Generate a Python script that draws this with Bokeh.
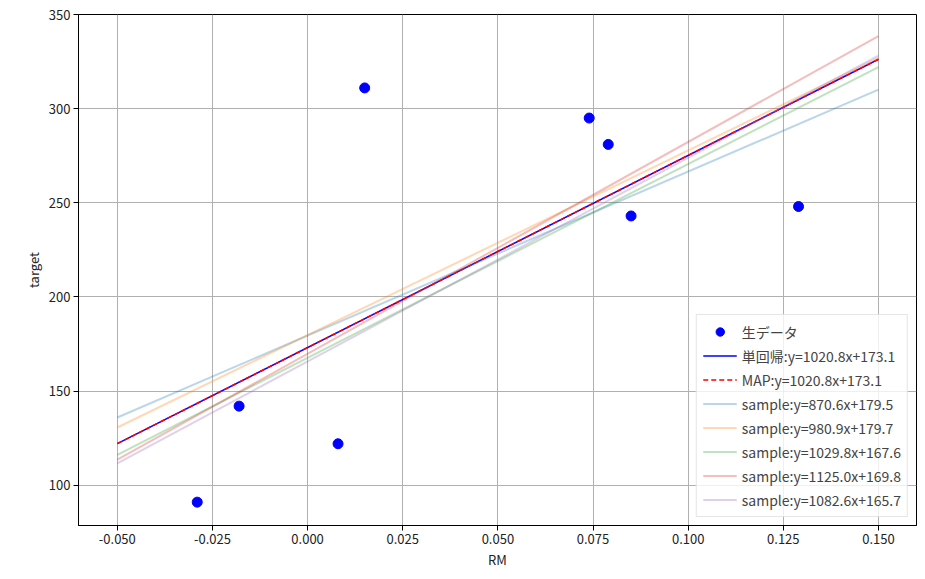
from bokeh.plotting import figure
from bokeh.models import Range1d, SingleIntervalTicker, Legend, LegendItem, PrintfTickFormatter
from bokeh.embed import file_html
from bokeh.resources import INLINE

rm = [-0.029, -0.018, 0.008, 0.015, 0.074, 0.079, 0.085, 0.129]
target = [91, 142, 122, 311, 295, 281, 243, 248]

x_line = [-0.05, 0.15]
slope_ols, icpt_ols = 1020.8, 173.1
slope_map, icpt_map = 1020.8, 173.1
samples = [(870.6, 179.5), (980.9, 179.7), (1029.8, 167.6), (1125.0, 169.8), (1082.6, 165.7)]
sample_colors = ["#1f77b4", "#ff7f0e", "#2ca02c", "#d62728", "#9467bd"]

font = "Noto Sans CJK JP"
p = figure(width=917, height=571, output_backend="svg", toolbar_location=None,
           x_range=Range1d(-0.0602, 0.160), y_range=Range1d(78.6, 350),
           x_axis_label="RM", y_axis_label="target")
p.min_border_top = 14
p.min_border_right = 1
p.min_border_left = 78
p.min_border_bottom = 10
p.outline_line_color = "black"
p.xaxis.ticker = SingleIntervalTicker(interval=0.025)
p.xaxis.formatter = PrintfTickFormatter(format="%.3f")
p.yaxis.ticker = SingleIntervalTicker(interval=50)
p.xgrid.ticker = p.xaxis.ticker
p.ygrid.ticker = p.yaxis.ticker
p.grid.grid_line_color = "#b0b0b0"
for ax in (p.xaxis, p.yaxis):
    ax.major_label_text_font = font
    ax.axis_label_text_font = font
    ax.major_label_text_font_size = "13px"
    ax.axis_label_text_font_size = "13px"
    ax.axis_label_text_font_style = "normal"
    ax.minor_tick_line_color = None
    ax.major_label_text_color = "#222222"
    ax.axis_label_text_color = "#222222"
    ax.major_tick_in = 0
    ax.major_tick_out = 5
    ax.major_label_standoff = 3
    ax.axis_label_standoff = 3

items = []
r = p.scatter(rm, target, size=10, color="blue")
items.append(LegendItem(label="生データ", renderers=[r]))
r = p.line(x_line, [slope_ols * x + icpt_ols for x in x_line], color="blue", line_width=1.5)
items.append(LegendItem(label="単回帰:y=%.1fx+%.1f" % (slope_ols, icpt_ols), renderers=[r]))
r = p.line(x_line, [slope_map * x + icpt_map for x in x_line], color="red", line_width=1.5, line_dash="5 3")
items.append(LegendItem(label="MAP:y=%.1fx+%.1f" % (slope_map, icpt_map), renderers=[r]))
for (s, b), c in zip(samples, sample_colors):
    r = p.line(x_line, [s * x + b for x in x_line], color=c, alpha=0.3, line_width=2)
    items.append(LegendItem(label="sample:y=%.1fx+%.1f" % (s, b), renderers=[r]))

legend = Legend(items=items, location="bottom_right", label_text_font=font,
                label_text_font_size="14px", spacing=3, padding=6, margin=8,
                label_height=21, glyph_height=21, glyph_width=34, border_line_color="#cccccc",
                background_fill_alpha=0.8)
p.add_layout(legend)

open("out.html", "w").write(file_html(p, INLINE))
